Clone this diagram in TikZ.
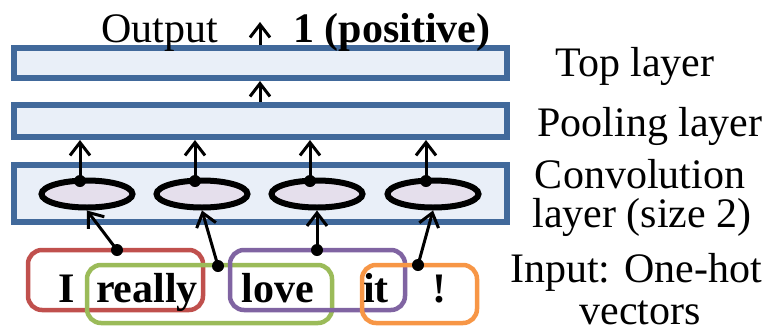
\documentclass[tikz,border=0pt]{standalone}
\usepackage{fontspec}
\setmainfont{Liberation Serif}
\usetikzlibrary{arrows.meta,shapes.geometric}
\definecolor{layerfill}{HTML}{E9EFF8}
\definecolor{layerblue}{HTML}{41699B}
\definecolor{cellfill}{HTML}{E5DFEC}
\definecolor{wred}{HTML}{C0504D}
\definecolor{wgreen}{HTML}{9BBB59}
\definecolor{wpurple}{HTML}{8064A2}
\definecolor{worange}{HTML}{F79646}
\begin{document}
\begin{tikzpicture}[x=1pt,y=-1pt,
  layerbox/.style={draw=layerblue, fill=layerfill, line width=6pt, inner sep=0pt, minimum width=493pt},
  cell/.style={ellipse, draw, line width=6pt, fill=cellfill, minimum width=91pt, minimum height=27pt, inner sep=0pt},
  wbox/.style={rounded corners=14pt, line width=4.5pt, draw, inner sep=0pt},
  arr/.style={line width=3pt, -{Straight Barb[length=13pt,width=20pt]}},
  dotc/.style={circle, fill=black, inner sep=0pt, minimum size=12pt},
  lbl/.style={font=\rmfamily\fontsize{42}{48}\selectfont, inner sep=0pt, anchor=base},
  wd/.style={font=\rmfamily\fontsize{42}{48}\selectfont\bfseries, inner sep=0pt, anchor=base}
]
\useasboundingbox (0,0) rectangle (774,333);

% layers
\node[layerbox, minimum height=30pt] (top) at (260.5,63) {};
\node[layerbox, minimum height=32pt] (pool) at (260.5,121) {};
\node[layerbox, minimum height=57pt] (conv) at (260.5,193.5) {};

% convolution cells
\node[cell] (c1) at (87,194) {};
\node[cell] (c2) at (202,194) {};
\node[cell] (c3) at (317,194) {};
\node[cell] (c4) at (433,194) {};

% dots on top of cells
\node[dotc] (t1) at (80,181) {};
\node[dotc] (t2) at (195,181) {};
\node[dotc] (t3) at (310,181) {};
\node[dotc] (t4) at (426,181) {};

% word boxes
\node[wbox, draw=wred, minimum width=175pt, minimum height=60pt] (b1) at (115.5,280) {};
\node[wbox, draw=wgreen, minimum width=245pt, minimum height=58pt] (b2) at (209.5,294) {};
\node[wbox, draw=wpurple, minimum width=175pt, minimum height=60pt] (b3) at (317.5,280) {};
\node[wbox, draw=worange, minimum width=115pt, minimum height=58pt] (b4) at (419.5,294) {};

% words
\node[wd] (wI) at (67,302) {I};
\node[wd] (wreally) at (147,302) {really};
\node[wd] (wlove) at (278,302) {love};
\node[wd] (wit) at (376,302) {it};
\node[wd] (wex) at (439,302) {!};

% dots on word boxes
\node[dotc] (w1) at (117,250) {};
\node[dotc] (w2) at (218,266) {};
\node[dotc] (w3) at (317,250) {};
\node[dotc] (w4) at (418,265) {};

% arrows words -> cells
\draw[arr] (w1.center) -- (c1.south);
\draw[arr] (w2.center) -- (c2.south);
\draw[arr] (w3.center) -- (c3.south);
\draw[arr] (w4.center) -- (c4.south);

% arrows cells -> pooling
\foreach \i in {1,2,3,4} {
  \draw[arr] (t\i.center) -- (t\i |- pool.south);
}

% pooling -> top, top -> output
\coordinate (pa) at (260,0);
\draw[arr] (pa |- pool.north) -- (pa |- top.south);
\coordinate (outtip) at (260,22);
\draw[arr] (outtip |- top.north) -- (outtip);

% output text
\node[lbl] (outlbl) at (160,42) {Output};
\node[wd] (res) at (392,42) {1 (positive)};

% right labels
\node[lbl] (ltop) at (635,76) {Top layer};
\node[lbl] (lpool) at (650,136) {Pooling layer};
\node[lbl] (lconv1) at (640,188) {Convolution};
\node[lbl] (lconv2) at (642,227) {layer (size 2)};
\node[lbl] (lin1) at (636,282) {Input: One-hot};
\node[lbl] (lin2) at (640,324) {vectors};
\end{tikzpicture}
\end{document}
